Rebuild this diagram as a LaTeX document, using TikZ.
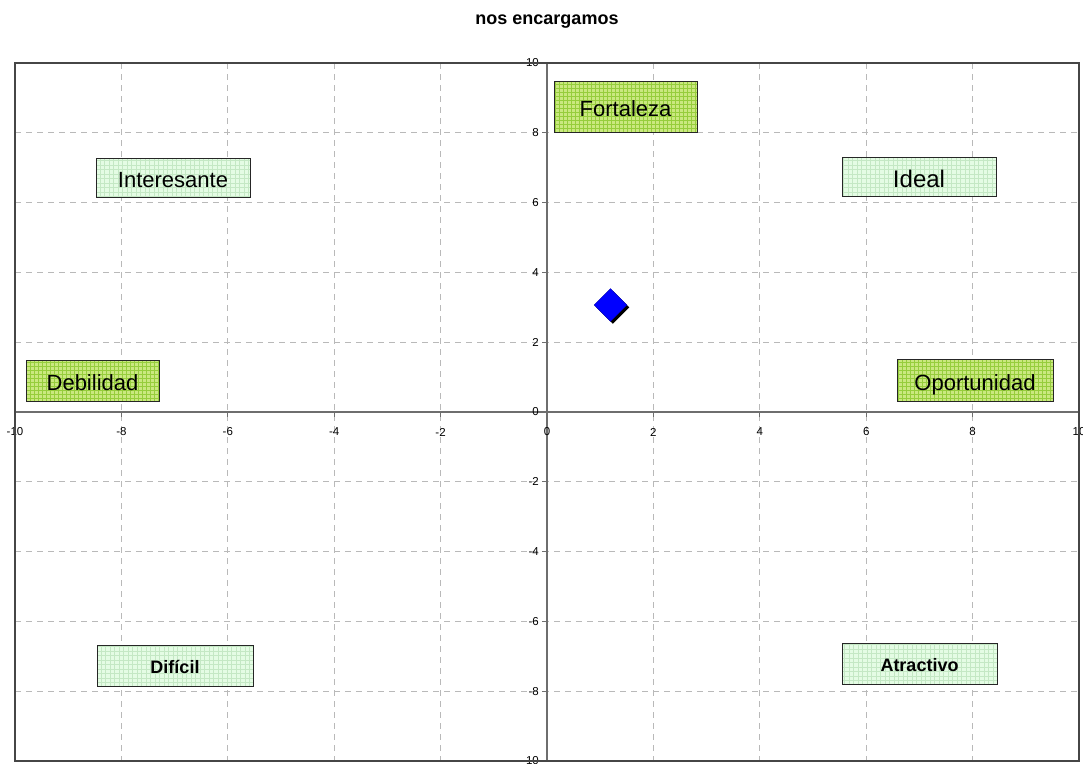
\documentclass[tikz,border=0pt]{standalone}
\usepackage{fontspec}
\setmainfont{Liberation Sans}
\usetikzlibrary{shapes.geometric}

\definecolor{framecol}{RGB}{70,70,70}
\definecolor{axiscol}{RGB}{110,110,110}
\definecolor{gridcol}{RGB}{185,185,185}
\definecolor{strongfill}{RGB}{202,232,128}
\definecolor{strongmesh}{RGB}{150,205,60}
\definecolor{softfill}{RGB}{228,252,228}
\definecolor{softmesh}{RGB}{196,232,196}
\definecolor{markerblue}{RGB}{0,0,255}

\tikzset{
  gridline/.style={gridcol, line width=0.8pt, dash pattern=on 6pt off 5pt},
  axisline/.style={axiscol, line width=1.2pt},
  tickmark/.style={axiscol, line width=0.8pt},
  ticklabel/.style={font=\fontsize{11.5}{12}\selectfont, inner sep=0pt},
  labelbox/.style={draw=black!85, line width=0.9pt, inner sep=0pt, text depth=0pt},
  plaintext/.style={font=\fontsize{22}{24}\selectfont, text height=20pt},
  bigtext/.style={font=\fontsize{24}{26}\selectfont, text height=21.5pt},
  boldtext/.style={font=\fontsize{18}{20}\selectfont\bfseries, text height=16pt},
  strongbox/.style={labelbox, plaintext, fill=strongfill,
    path picture={\draw[strongmesh, line width=0.4pt, step=4pt]
      (path picture bounding box.south west) grid (path picture bounding box.north east);}},
  softbox/.style={labelbox, fill=softfill,
    path picture={\draw[softmesh, line width=0.4pt, step=4.5pt]
      (path picture bounding box.south west) grid (path picture bounding box.north east);}},
}

\begin{document}
\begin{tikzpicture}[x=1pt, y=-1pt]
\useasboundingbox (0,0) rectangle (1083,763);

% dashed grid, every 2 units
\foreach \i in {-8,-6,...,8} {
  \draw[gridline] ({547+53.2*\i},63) -- ({547+53.2*\i},761);
  \draw[gridline] (15,{412-34.9*\i}) -- (1079,{412-34.9*\i});
}

% axes through the origin
\draw[axisline] (547,63) -- (547,761);
\draw[axisline] (15,412) -- (1079,412);

% ticks and tick labels
\foreach \i in {-10,-8,...,10} {
  \draw[tickmark] ({547+53.2*\i},412) -- ({547+53.2*\i},417);
  \node[ticklabel] (xl\i) at ({547+53.2*\i},432) {\i};
  \draw[tickmark] (542,{412-34.9*\i}) -- (547,{412-34.9*\i});
  \node[ticklabel, anchor=east] (yl\i) at (539,{412-34.9*\i}) {\i};
}

% plot frame
\draw[framecol, line width=1.2pt] (15,63) rectangle (1079,761);

% title
\node[font=\fontsize{18}{20}\selectfont\bfseries] (title) at (547,22) {nos encargamos};

% quadrant labels
\node[strongbox, minimum width=143pt, minimum height=51pt] (fortaleza) at (625.5,106.5) {Fortaleza};
\node[strongbox, minimum width=133pt, minimum height=41pt] (debilidad) at (92.5,380.5) {Debilidad};
\node[strongbox, minimum width=156pt, minimum height=42pt] (oportunidad) at (975,380.5) {Oportunidad};
\node[softbox, plaintext, minimum width=154pt, minimum height=39pt] (interesante) at (173,177.5) {Interesante};
\node[softbox, bigtext, minimum width=154pt, minimum height=39pt] (ideal) at (919,176.5) {Ideal};
\node[softbox, boldtext, minimum width=156pt, minimum height=41pt] (dificil) at (175,665.5) {Difícil};
\node[softbox, boldtext, minimum width=155pt, minimum height=41pt] (atractivo) at (919.5,663.5) {Atractivo};

% data point with its drop shadow
\node[diamond, minimum width=33pt, minimum height=33pt, inner sep=0pt, fill=markerblue,
      draw=markerblue!70!black, line width=0.4pt,
      preaction={fill=black, transform canvas={shift={(2.4pt,-2.4pt)}}}] (point) at (610.5,305) {};
\end{tikzpicture}
\end{document}
